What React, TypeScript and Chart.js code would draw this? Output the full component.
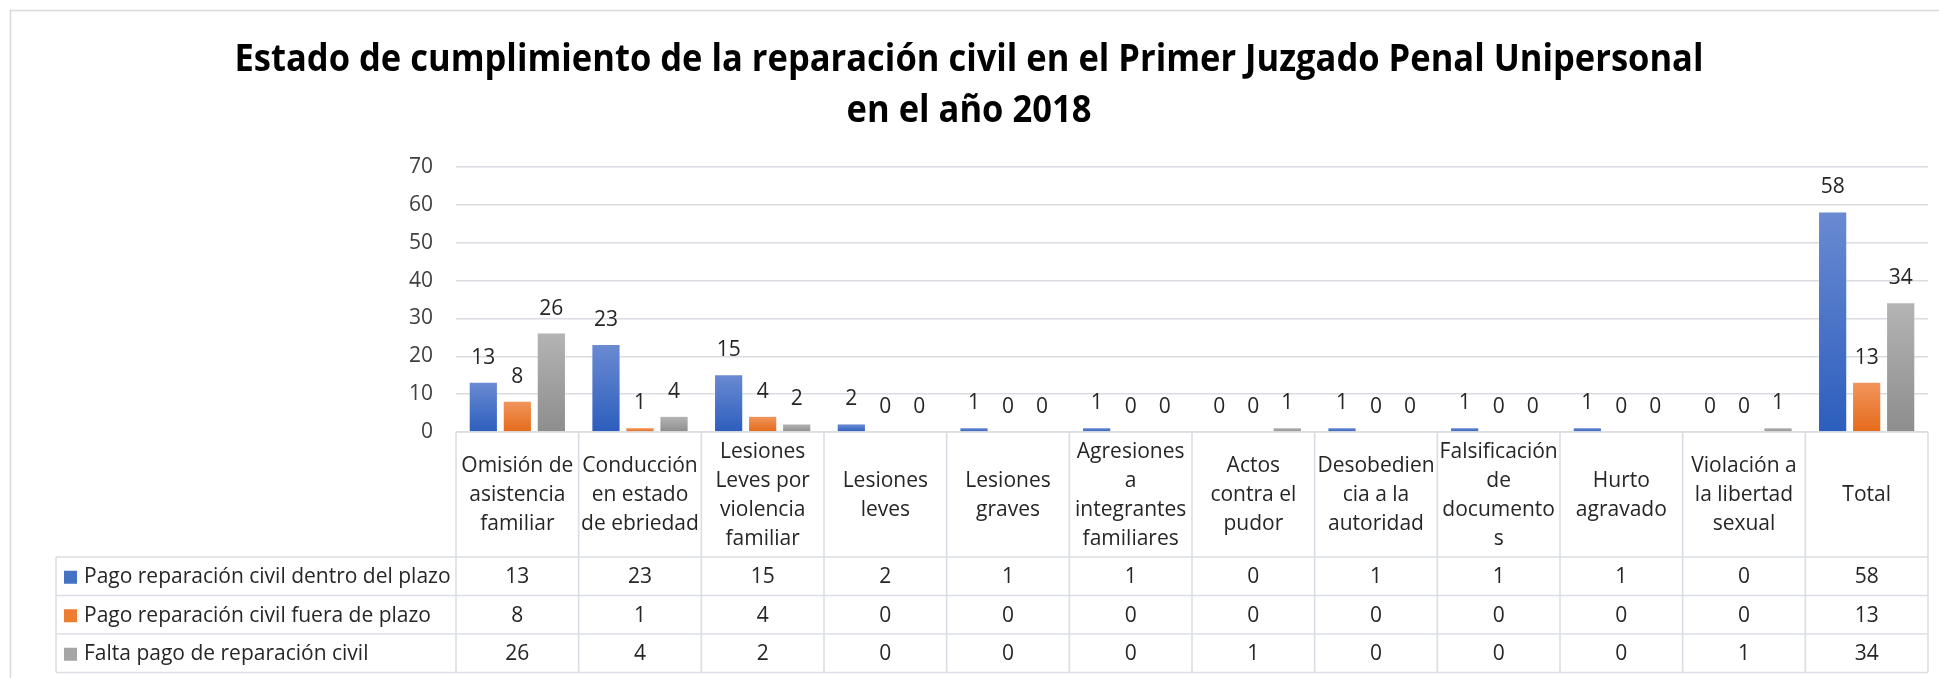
import React, { useEffect, useRef } from 'react';
import { Chart, registerables } from 'chart.js';

Chart.register(...registerables);

const titleLines = [
  'Estado de cumplimiento de la reparación civil en el Primer Juzgado Penal Unipersonal',
  'en el año 2018',
];

const categoryLines: string[][] = [
  ['Omisión de', 'asistencia', 'familiar'],
  ['Conducción', 'en estado', 'de ebriedad'],
  ['Lesiones', 'Leves por', 'violencia', 'familiar'],
  ['Lesiones', 'leves'],
  ['Lesiones', 'graves'],
  ['Agresiones', 'a', 'integrantes', 'familiares'],
  ['Actos', 'contra el', 'pudor'],
  ['Desobedien', 'cia a la', 'autoridad'],
  ['Falsificación', 'de', 'documento', 's'],
  ['Hurto', 'agravado'],
  ['Violación a', 'la libertad', 'sexual'],
  ['Total'],
];

const seriesNames = [
  'Pago reparación civil dentro del plazo',
  'Pago reparación civil fuera de plazo',
  'Falta pago de reparación civil',
];

const dentroPlazo = [13, 23, 15, 2, 1, 1, 0, 1, 1, 1, 0, 58];
const fueraPlazo = [8, 1, 4, 0, 0, 0, 0, 0, 0, 0, 0, 13];
const faltaPago = [26, 4, 2, 0, 0, 0, 1, 0, 0, 0, 1, 34];

const yMin = 0;
const yMax = 70;
const yStep = 10;

const FONT = '"Open Sans", "Liberation Sans", sans-serif';
const TEXT = '#262626';

const palette = [
  { top: '#6a8ad2', mid: '#4472c4', bottom: '#2c5ebd', legend: '#4472c4' },
  { top: '#f1955c', mid: '#ed7d31', bottom: '#e56a1a', legend: '#ed7d31' },
  { top: '#b4b4b4', mid: '#a5a5a5', bottom: '#8d8d8d', legend: '#a5a5a5' },
];

function gradientFill(idx: number) {
  return (c: any) => {
    const p = palette[idx];
    const chart = c.chart;
    const ys = chart.scales && chart.scales.y;
    if (!ys || c.type !== 'data') return p.mid;
    const v = typeof c.raw === 'number' ? c.raw : 0;
    const top = ys.getPixelForValue(v);
    const bottom = ys.getPixelForValue(0);
    if (!isFinite(top) || !isFinite(bottom) || Math.abs(bottom - top) < 0.5) return p.mid;
    const g = chart.ctx.createLinearGradient(0, top, 0, bottom);
    g.addColorStop(0, p.top);
    g.addColorStop(1, p.bottom);
    return g;
  };
}

const framePlugin = {
  id: 'frame',
  beforeDraw(chart: any) {
    const ctx = chart.ctx;
    ctx.save();
    ctx.fillStyle = '#ffffff';
    ctx.fillRect(0, 0, chart.width, chart.height);
    ctx.strokeStyle = '#d9d9d9';
    ctx.lineWidth = 1.5;
    ctx.beginPath();
    ctx.moveTo(10.5, chart.height + 5);
    ctx.lineTo(10.5, 10.5);
    ctx.lineTo(chart.width + 5, 10.5);
    ctx.stroke();
    ctx.restore();
  },
};

const titlePlugin = {
  id: 'scaledTitle',
  afterDraw(chart: any) {
    const ctx = chart.ctx;
    ctx.save();
    ctx.fillStyle = '#000000';
    ctx.font = `bold 38px ${FONT}`;
    ctx.textAlign = 'center';
    ctx.textBaseline = 'alphabetic';
    const w0 = ctx.measureText(titleLines[0]).width;
    const sx = w0 > 0 ? 1469 / w0 : 1;
    const cx = 969;
    const baselines = [71, 122];
    titleLines.forEach((t, i) => {
      ctx.save();
      ctx.translate(cx, baselines[i]);
      ctx.scale(sx, 1);
      ctx.fillText(t, 0, 0);
      ctx.restore();
    });
    ctx.restore();
  },
};

const valueLabelPlugin = {
  id: 'valueLabels',
  afterDatasetsDraw(chart: any) {
    const ctx = chart.ctx;
    ctx.save();
    ctx.fillStyle = TEXT;
    ctx.font = `21px ${FONT}`;
    ctx.textAlign = 'center';
    ctx.textBaseline = 'middle';
    chart.data.datasets.forEach((ds: any, di: number) => {
      const meta = chart.getDatasetMeta(di);
      meta.data.forEach((el: any, i: number) => {
        ctx.fillText(String(ds.data[i]), el.x, el.y - 25);
      });
    });
    ctx.restore();
  },
};

const tablePlugin = {
  id: 'dataTable',
  afterDraw(chart: any) {
    const ctx = chart.ctx;
    const xs = chart.scales.x;
    const area = chart.chartArea;
    const n = chart.data.labels.length;
    const cw = (area.right - area.left) / n;
    const top = area.bottom;
    const headerBottom = top + 125;
    const rowH = 38.5;
    const tableLeft = 56;
    const legendRight = area.left;
    const right = area.right;
    const rowsBottom = headerBottom + rowH * chart.data.datasets.length;

    ctx.save();
    ctx.strokeStyle = '#dadee4';
    ctx.lineWidth = 1.6;
    ctx.beginPath();
    ctx.moveTo(legendRight, top);
    ctx.lineTo(right, top);
    for (let r = 0; r <= chart.data.datasets.length; r++) {
      const y = headerBottom + r * rowH;
      ctx.moveTo(tableLeft, y);
      ctx.lineTo(right, y);
    }
    for (let i = 0; i <= n; i++) {
      const x = xs.getPixelForValue(0) - cw / 2 + i * cw;
      ctx.moveTo(x, top);
      ctx.lineTo(x, rowsBottom);
    }
    ctx.moveTo(tableLeft, headerBottom);
    ctx.lineTo(tableLeft, rowsBottom);
    ctx.stroke();

    ctx.fillStyle = TEXT;
    ctx.font = `21px ${FONT}`;
    ctx.textAlign = 'center';
    ctx.textBaseline = 'middle';
    const lineH = 29;
    const hMid = (top + headerBottom) / 2 + 1;
    categoryLines.forEach((lines, i) => {
      const x = xs.getPixelForValue(i);
      const y0 = hMid - ((lines.length - 1) / 2) * lineH;
      lines.forEach((l, k) => ctx.fillText(l, x, y0 + k * lineH));
    });

    chart.data.datasets.forEach((ds: any, di: number) => {
      const yMid = headerBottom + di * rowH + rowH / 2 + 1;
      ctx.fillStyle = palette[di].legend;
      ctx.fillRect(64, yMid - 6.5, 13, 13);
      ctx.fillStyle = TEXT;
      ctx.textAlign = 'left';
      ctx.fillText(seriesNames[di], 84, yMid);
      ctx.textAlign = 'center';
      ds.data.forEach((v: number, i: number) => {
        ctx.fillText(String(v), xs.getPixelForValue(i), yMid);
      });
    });
    ctx.restore();
  },
};

export default function App() {
  const ref = useRef<HTMLCanvasElement | null>(null);

  useEffect(() => {
    if (!ref.current) return;
    const seriesData = [dentroPlazo, fueraPlazo, faltaPago];
    const chart = new Chart(ref.current, {
      type: 'bar',
      data: {
        labels: categoryLines.map((l) => l.join(' ')),
        datasets: seriesData.map((d, i) => ({
          label: seriesNames[i],
          data: d,
          backgroundColor: gradientFill(i),
          borderWidth: 0,
          categoryPercentage: 0.832,
          barPercentage: 0.8,
        })),
      },
      options: {
        animation: false,
        responsive: false,
        devicePixelRatio: 1,
        layout: { padding: { left: 0, top: 167, right: 11, bottom: 246 } },
        plugins: {
          legend: { display: false },
          title: { display: false },
          tooltip: { enabled: false },
        },
        scales: {
          x: { display: false },
          y: {
            min: yMin,
            max: yMax,
            afterFit: (s: any) => {
              s.width = 456;
            },
            ticks: {
              stepSize: yStep,
              padding: 23,
              color: '#404040',
              font: { family: FONT, size: 21 },
            },
            border: { display: false },
            grid: { color: '#d9dce1', lineWidth: 1.5, drawTicks: false },
          },
        },
      },
      plugins: [framePlugin, valueLabelPlugin, tablePlugin, titlePlugin],
    });
    if ((document as any).fonts) {
      Promise.all([
        (document as any).fonts.load(`21px "Open Sans"`),
        (document as any).fonts.load(`bold 38px "Open Sans"`),
      ]).then(() => chart.update()).catch(() => {});
    }
    return () => chart.destroy();
  }, []);

  return (
    <div style={{ position: 'fixed', left: 0, top: 0, width: 1939, height: 678, background: '#fff' }}>
      <canvas ref={ref} width={1939} height={678} style={{ width: 1939, height: 678, display: 'block' }} />
    </div>
  );
}
